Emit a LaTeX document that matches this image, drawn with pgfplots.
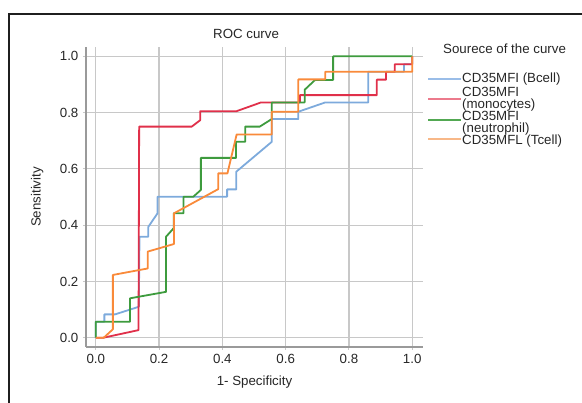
\documentclass[border=0pt]{standalone}
\usepackage{pgfplots}
\pgfplotsset{compat=1.18}
\usepackage{fontspec}
\setmainfont{Liberation Sans}

\definecolor{cblue}{HTML}{7DAADC}
\definecolor{cred}{HTML}{E0304A}
\definecolor{cgreen}{HTML}{3E9B3E}
\definecolor{corange}{HTML}{F98A3A}
\definecolor{lblue}{HTML}{9ABDE8}
\definecolor{lred}{HTML}{EC7A8C}
\definecolor{lgreen}{HTML}{52A852}
\definecolor{lorange}{HTML}{F8B888}
\definecolor{gridgray}{HTML}{C8C8C8}
\definecolor{spinegray}{HTML}{9A9A9A}

\begin{document}
\fontsize{13.3}{15}\selectfont
\begin{tikzpicture}
\useasboundingbox (0pt,0pt) rectangle (582pt,-403pt);
% outer frame, right and bottom edges fall outside the page
\draw[line width=2.2pt, black!88] (9pt,-14pt) rectangle (640pt,-460pt);

\begin{axis}[
    at={(86pt,-347pt)}, anchor=south west,
    scale only axis, width=337pt, height=300pt,
    xmin=-0.031, xmax=1.034, ymin=-0.033, ymax=1.033,
    axis x line*=bottom, axis y line*=left,
    axis line style={-, spinegray, line width=1.6pt},
    xtick={0,0.2,0.4,0.6,0.8,1.0},
    ytick={0,0.2,0.4,0.6,0.8,1.0},
    grid=major,
    grid style={gridgray, line width=1.2pt},
    tick style={gridgray, line width=1pt},
    major tick length=3pt, tick align=outside,
    every tick label/.append style={font=\fontsize{13.3}{15}\selectfont, text=black!85},
    xticklabel style={/pgf/number format/fixed, /pgf/number format/fixed zerofill,
        /pgf/number format/precision=1, /pgf/number format/assume math mode=true},
    yticklabel style={/pgf/number format/fixed, /pgf/number format/fixed zerofill,
        /pgf/number format/precision=1, /pgf/number format/assume math mode=true},
    title={ROC curve},
    title style={at={(axis description cs:0.475,1.023)}, anchor=center,
        font=\fontsize{13.3}{15}\selectfont, text=black!85},
    xlabel={1- Specificity},
    xlabel style={at={(axis description cs:0.5,-0.117)}, anchor=center,
        font=\fontsize{13.3}{15}\selectfont, text=black!85},
    ylabel={Sensitivity},
    ylabel style={at={(axis description cs:-0.145,0.5)}, anchor=center,
        font=\fontsize{13.3}{15}\selectfont, text=black!85},
    every axis plot/.append style={line width=1.8pt, line join=round},
]
% CD35MFI (Bcell)
\addplot[cblue] coordinates {
(0,0) (0,0.057) (0.027,0.057) (0.027,0.083) (0.061,0.083) (0.136,0.11)
(0.138,0.359) (0.166,0.359) (0.166,0.394) (0.195,0.442) (0.195,0.501)
(0.415,0.501) (0.415,0.527) (0.444,0.527) (0.444,0.59) (0.556,0.696)
(0.556,0.777) (0.64,0.777) (0.64,0.803) (0.725,0.836) (0.861,0.836)
(0.861,0.945) (0.974,0.945) (0.974,0.972) (1,0.972) (1,1)};
% CD35MFI (monocytes)
\addplot[cred] coordinates {
(0,0) (0.024,0) (0.135,0.027) (0.137,0.75) (0.303,0.75) (0.33,0.773)
(0.33,0.805) (0.445,0.805) (0.522,0.836) (0.645,0.836) (0.645,0.862)
(0.888,0.862) (0.888,0.917) (0.917,0.917) (0.917,0.945) (0.945,0.945)
(0.945,0.972) (1,0.972) (1,1)};
% CD35MFI (neutrophil)
\addplot[cgreen] coordinates {
(0,0) (0,0.057) (0.108,0.057) (0.108,0.14) (0.222,0.163) (0.222,0.359)
(0.246,0.389) (0.246,0.442) (0.277,0.442) (0.277,0.501) (0.308,0.501)
(0.332,0.525) (0.332,0.639) (0.443,0.639) (0.443,0.696) (0.472,0.696)
(0.472,0.75) (0.518,0.75) (0.556,0.777) (0.556,0.836) (0.66,0.836)
(0.66,0.881) (0.693,0.916) (0.75,0.916) (0.75,1) (1,1)};
% CD35MFL (Tcell)
\addplot[corange] coordinates {
(0,0) (0.025,0) (0.054,0.03) (0.054,0.223) (0.135,0.24) (0.164,0.246)
(0.164,0.306) (0.247,0.333) (0.247,0.442) (0.387,0.528) (0.387,0.584)
(0.416,0.584) (0.445,0.722) (0.556,0.722) (0.556,0.803) (0.64,0.803)
(0.64,0.918) (0.725,0.918) (0.725,0.945) (1,0.945) (1,1)};
\end{axis}

% legend
\begin{scope}[every node/.style={anchor=base west, inner sep=0pt, text=black!85,
    font=\fontsize{13.3}{15}\selectfont}]
\node at (443pt,-54pt) {Sourece of the curve};
\draw[lblue, line width=1.8pt] (428pt,-79pt) -- (461pt,-79pt);
\node at (462pt,-83pt) {CD35MFI (Bcell)};
\draw[lred, line width=1.8pt] (428pt,-99pt) -- (461pt,-99pt);
\node at (462pt,-97pt) {CD35MFI};
\node at (462pt,-109pt) {(monocytes)};
\draw[lgreen, line width=1.8pt] (428pt,-120pt) -- (461pt,-120pt);
\node at (462pt,-121pt) {CD35MFI};
\node at (462pt,-133pt) {(neutrophil)};
\draw[lorange, line width=1.8pt] (428pt,-139pt) -- (461pt,-139pt);
\node at (462pt,-145pt) {CD35MFL (Tcell)};
\end{scope}
\end{tikzpicture}
\end{document}
